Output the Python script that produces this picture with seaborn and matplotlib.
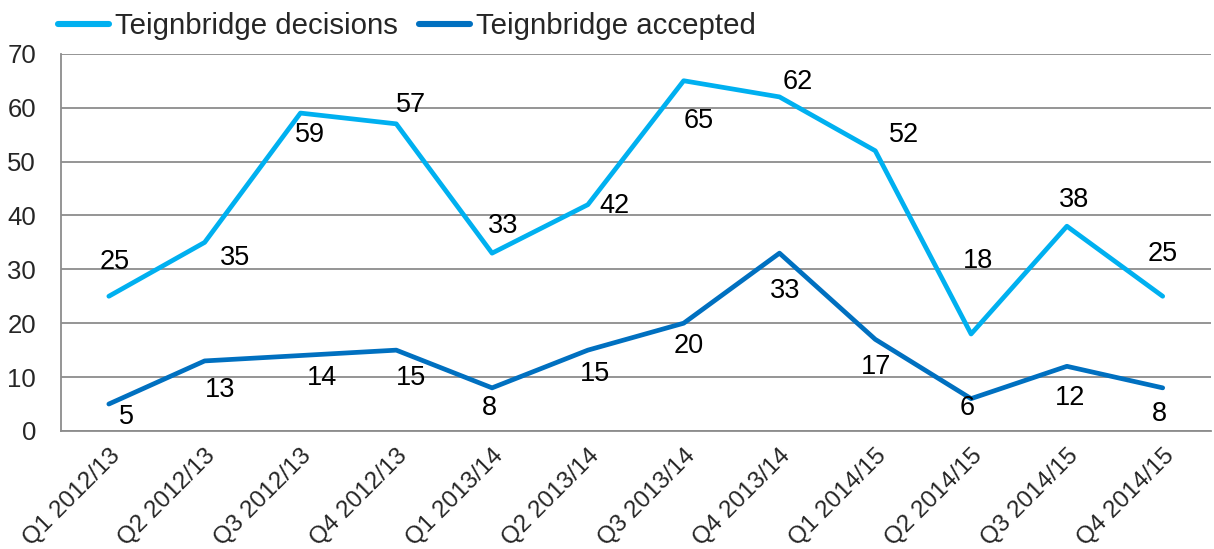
"""Teignbridge quarterly decisions vs accepted - line chart"""
import matplotlib
matplotlib.use('Agg')
import matplotlib.pyplot as plt
import seaborn as sns
import pandas as pd
import numpy as np

# ===== DATA =====
quarters = ['Q1 2012/13', 'Q2 2012/13', 'Q3 2012/13', 'Q4 2012/13',
            'Q1 2013/14', 'Q2 2013/14', 'Q3 2013/14', 'Q4 2013/14',
            'Q1 2014/15', 'Q2 2014/15', 'Q3 2014/15', 'Q4 2014/15']
decisions = [25, 35, 59, 57, 33, 42, 65, 62, 52, 18, 38, 25]
accepted = [5, 13, 14, 15, 8, 15, 20, 33, 17, 6, 12, 8]

# label offsets in pixels (dx, dy up) - placement only
dec_off = [(6, 34), (30, -16), (10, -22), (15, 19), (11, 27), (27, -1),
           (15, -40), (18, 15), (29, 16), (7, 73), (7, 26), (0, 42)]
acc_off = [(18, -13), (15, -29), (22, -22), (15, -28), (-3, -20), (7, -24),
           (5, -23), (6, -38), (1, -28), (-4, -9), (3, -32), (-3, -26)]

C_DEC = '#00B0F0'
C_ACC = '#0070C0'
GRID = '#8C8C8C'

sns.set_style('white')
plt.rcParams['font.family'] = ['Liberation Sans', 'DejaVu Sans']

df = pd.DataFrame({
    'x': list(range(len(quarters))) * 2,
    'value': decisions + accepted,
    'series': ['Teignbridge decisions'] * len(quarters) + ['Teignbridge accepted'] * len(quarters),
})

fig = plt.figure(figsize=(12.14, 5.49), dpi=100)
ax = fig.add_axes([0.0502, 0.215, 0.947, 0.687])

sns.lineplot(data=df, x='x', y='value', hue='series',
             palette={'Teignbridge decisions': C_DEC, 'Teignbridge accepted': C_ACC},
             linewidth=3.4, ax=ax, legend=True)

for i, v in enumerate(decisions):
    ax.annotate(str(v), (i, v), xytext=dec_off[i], textcoords='offset pixels',
                ha='center', va='center', fontsize=19.5, color='black')
for i, v in enumerate(accepted):
    ax.annotate(str(v), (i, v), xytext=acc_off[i], textcoords='offset pixels',
                ha='center', va='center', fontsize=19.5, color='black')

ax.set_xlim(-0.5, len(quarters) - 0.5)
ax.set_ylim(0, 70)
ax.set_yticks(np.arange(0, 71, 10))
ax.yaxis.grid(True, color=GRID, linewidth=1.3)
ax.set_axisbelow(True)

ax.set_xticks(np.arange(len(quarters)))
ax.set_xticklabels(quarters, rotation=45, ha='right', va='top', rotation_mode='anchor')
ax.set_xticks(np.arange(-0.5, len(quarters)), minor=True)
ax.tick_params(axis='x', which='major', length=0, labelsize=17.5, pad=10)
ax.tick_params(axis='x', which='minor', length=6, width=1.3, color=GRID, direction='out')
ax.tick_params(axis='y', length=7, width=1.3, color=GRID, labelsize=18.5, pad=11)
ax.set_xlabel('')
ax.set_ylabel('')

for s in ['top', 'right']:
    ax.spines[s].set_visible(False)
for s in ['left', 'bottom']:
    ax.spines[s].set_color(GRID)
    ax.spines[s].set_linewidth(1.3)

ax.legend(loc='lower left', bbox_to_anchor=(-0.013, 1.005), ncol=2, frameon=False,
          fontsize=21.2, handlelength=1.75, handletextpad=0.2, columnspacing=0.7,
          borderaxespad=0)
for line in ax.get_legend().get_lines():
    line.set_linewidth(4.4)

fig.savefig('out.png', dpi=100)
